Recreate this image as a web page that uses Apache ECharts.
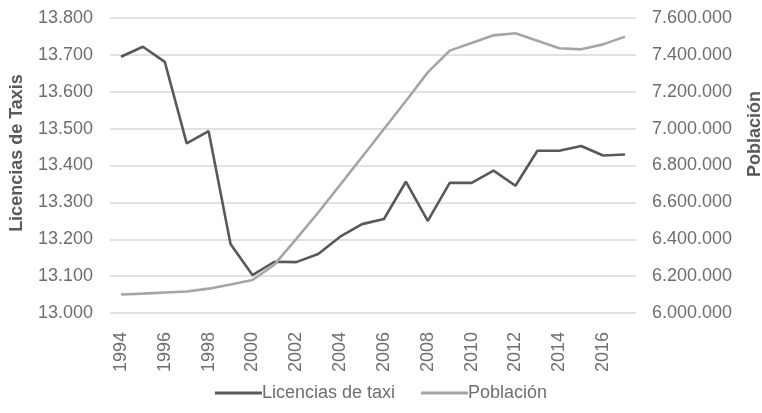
<!DOCTYPE html>
<html>
<head>
<meta charset="utf-8">
<script src="https://cdn.jsdelivr.net/npm/echarts@6/dist/echarts.min.js"></script>
<style>html,body{margin:0;padding:0;background:#fff}#c{width:762px;height:413px}</style>
</head>
<body>
<div id="c"></div>
<script>
const years = ['1994','1995','1996','1997','1998','1999','2000','2001','2002','2003','2004','2005','2006','2007','2008','2009','2010','2011','2012','2013','2014','2015','2016','2017'];
const licencias = [13695,13722,13681,13460,13493,13187,13103,13139,13138,13160,13207,13241,13255,13356,13250,13353,13353,13386,13345,13440,13440,13453,13427,13430];
const poblacion = [6100000,6105000,6111000,6117000,6132000,6155000,6179000,6262000,6402000,6545000,6695000,6846000,6998000,7150000,7305000,7423000,7464000,7506000,7517000,7477000,7436000,7430000,7457000,7499000];
const leftTitle = 'Licencias de Taxis';
const rightTitle = 'Población';

const fmt = v => String(Math.round(v)).replace(/\B(?=(\d{3})+(?!\d))/g, '.');
const FONT = 'Liberation Sans';
const labelColor = '#6e6e6e';

const chart = echarts.init(document.getElementById('c'), null, {renderer:'canvas'});
chart.setOption({
  animation:false,
  textStyle:{fontFamily:FONT},
  grid:{left:110, right:126, top:18, bottom:100, containLabel:false},
  legend:{
    bottom:6, left:'center',
    itemWidth:47, itemHeight:3, itemGap:26, icon:'rect',
    textStyle:{fontFamily:FONT, fontSize:18, color:labelColor, padding:[0,0,0,-5]},
    data:['Licencias de taxi','Población']
  },
  xAxis:{
    type:'category', data:years, boundaryGap:true,
    axisLine:{show:false}, axisTick:{show:false},
    axisLabel:{interval:1, rotate:90, margin:19, fontSize:18, color:labelColor, fontFamily:FONT}
  },
  yAxis:[
    {type:'value', min:13000, max:13800, interval:100,
     axisLine:{show:false}, axisTick:{show:false},
     splitLine:{lineStyle:{color:'#d9d9d9', width:1.5}},
     axisLabel:{margin:17, fontSize:18, color:labelColor, fontFamily:FONT, formatter:fmt}},
    {type:'value', min:6000000, max:7600000, interval:200000,
     axisLine:{show:false}, axisTick:{show:false}, splitLine:{show:false},
     axisLabel:{margin:16, fontSize:18, color:labelColor, fontFamily:FONT, formatter:fmt}}
  ],
  graphic:[
    {type:'text', x:17, y:153, rotation:Math.PI/2,
     style:{text:leftTitle, fill:'#595959', font:'bold 18px "Liberation Sans"', align:'center', verticalAlign:'middle'}},
    {type:'text', x:755, y:134, rotation:Math.PI/2,
     style:{text:rightTitle, fill:'#595959', font:'bold 18px "Liberation Sans"', align:'center', verticalAlign:'middle'}}
  ],
  series:[
    {name:'Licencias de taxi', type:'line', yAxisIndex:0, data:licencias, symbol:'none',
     lineStyle:{color:'#595959', width:2.6}, itemStyle:{color:'#595959'}},
    {name:'Población', type:'line', yAxisIndex:1, data:poblacion, symbol:'none',
     lineStyle:{color:'#a5a5a5', width:2.6}, itemStyle:{color:'#a5a5a5'}}
  ]
});
</script>
</body>
</html>
